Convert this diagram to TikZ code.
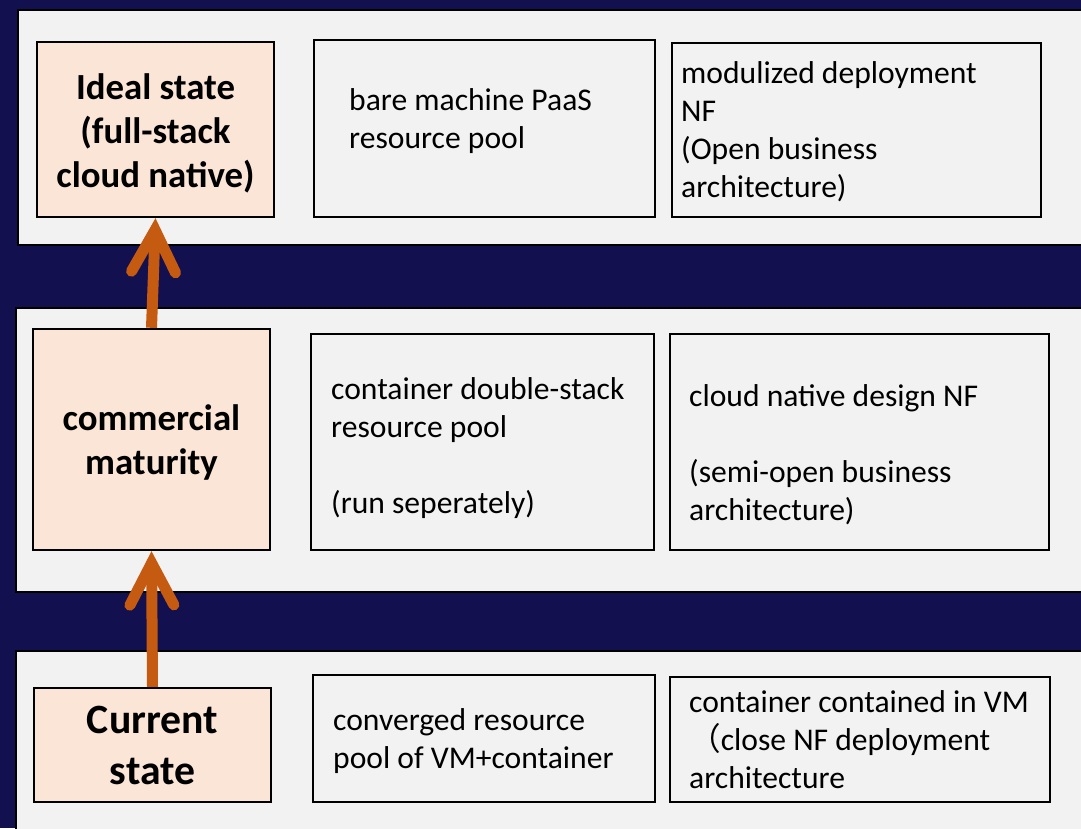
\documentclass[tikz,border=0pt]{standalone}
\usepackage{fontspec}
\setmainfont{Carlito}
\newfontfamily\cjk{Noto Sans CJK SC}
\usetikzlibrary{arrows.meta}
\definecolor{navy}{HTML}{13104F}
\definecolor{panelgray}{HTML}{F2F2F2}
\definecolor{peach}{HTML}{FBE5D6}
\definecolor{rust}{HTML}{C55A11}
\tikzset{
  panel/.style={draw=black, line width=2.8pt, fill=panelgray},
  statebox/.style={draw=black, line width=2.4pt, fill=peach, inner sep=0pt},
  statetxt/.style={align=center, inner sep=0pt, font=\fontsize{36.8}{44}\selectfont\bfseries},
  infobox/.style={draw=black, line width=2.4pt, fill=panelgray, inner sep=0pt},
  txt/.style={anchor=west, align=left, inner sep=0pt, font=\fontsize{31.6}{38}\selectfont},
  uparrow/.style={draw=rust, line width=11pt,
    -{Straight Barb[length=42pt, width=44pt, line cap=round, line join=miter]}},
}
\begin{document}
\begin{tikzpicture}[x=1pt, y=-1pt]
\useasboundingbox (0,0) rectangle (1081,828);
\fill[navy] (0,0) rectangle (1081,828);
\begin{scope}
\clip (0,0) rectangle (1081,828);
\draw[panel] (18,10) rectangle (1095,245);
\draw[panel] (16,308) rectangle (1095,592);
\draw[panel] (16,651) rectangle (1095,845);
\end{scope}

% row 1
\node[statebox, minimum width=237pt, minimum height=175pt] (ideal) at (155.5,129.5) {};
\node[statetxt] (idealt) at (155.5,133.5) {Ideal state\\(full-stack\\cloud native)};
\node[infobox, minimum width=341pt, minimum height=177pt] (bare) at (484.5,128.5) {};
\node[infobox, minimum width=369pt, minimum height=174pt] (modul) at (856.5,130) {};
\node[txt] (baret) at (349,121) {bare machine PaaS\\resource pool};
\node[txt] (modult) at (681,131.5) {modulized deployment\\NF\\(Open business\\architecture)};

% row 2
\node[statebox, minimum width=237pt, minimum height=221pt] (comm) at (151.5,439.5) {};
\node[statetxt] (commt) at (151.5,442.5) {commercial\\maturity};
\node[infobox, minimum width=343pt, minimum height=216pt] (cds) at (482.5,442) {};
\node[infobox, minimum width=379pt, minimum height=216pt] (cnd) at (859.5,442) {};
\node[txt] (cdst) at (331,448) {container double-stack\\resource pool\\[38pt](run seperately)};
\node[txt] (cndt) at (689,455) {cloud native design NF\\[38pt](semi-open business\\architecture)};

% row 3
\node[statebox, minimum width=237pt, minimum height=114pt] (cur) at (152.5,745) {};
\node[statetxt, font=\fontsize{41.7}{51}\selectfont\bfseries] (curt) at (152.5,745) {Current\\state};
\node[infobox, minimum width=342pt, minimum height=127pt] (conv) at (484,738.5) {};
\node[infobox, minimum width=380pt, minimum height=125pt] (cont) at (860,739.5) {};
\node[txt] (convt) at (333,741) {converged resource\\pool of VM+container};
\node[txt] (contt) at (689,740) {container contained in VM\\{\cjk （}close NF deployment\\architecture};

% arrows
\draw[uparrow] (comm.north) -- (ideal.south);
\draw[uparrow] (cur.north) -- (comm.south);
\end{tikzpicture}
\end{document}
